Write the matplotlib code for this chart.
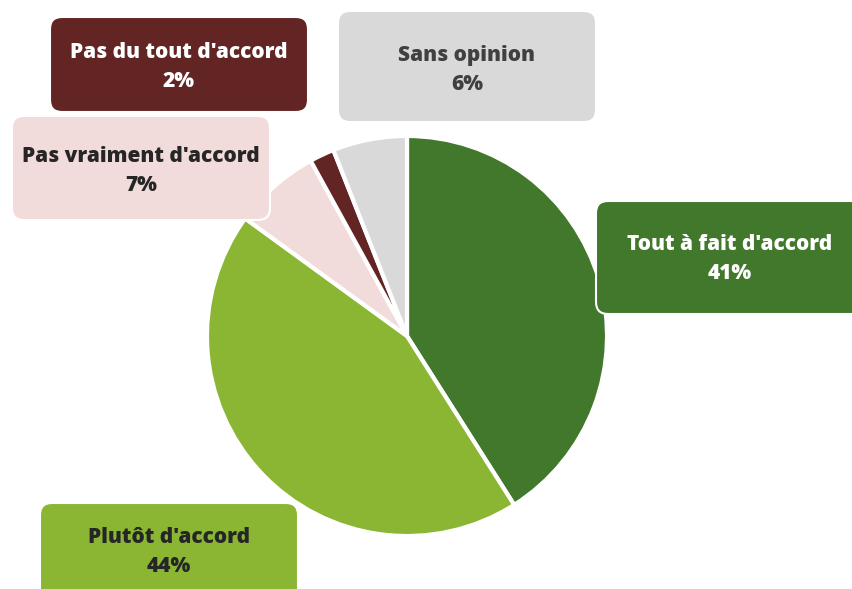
import matplotlib.pyplot as plt
from matplotlib.patches import FancyBboxPatch

# data
labels = ["Tout à fait d'accord", "Plutôt d'accord", "Pas vraiment d'accord",
          "Pas du tout d'accord", "Sans opinion"]
values = [41, 44, 7, 2, 6]
colors = ["#41782c", "#8ab634", "#f2dcdb", "#632523", "#d9d9d9"]
text_colors = ["white", "#262626", "#262626", "white", "#404040"]

H = 589
# label boxes (x, y_top, w, h) in pixels
boxes = [(596, 201, 270, 113), (40, 503, 258, 100), (12, 116, 258, 104),
         (50, 17, 258, 95), (338, 11, 258, 111)]
text_x = [730, 169, 141, 179, 467]
text_y = [259, 552, 171, 67, 70]

fig = plt.figure(figsize=(8.52, 5.89), dpi=100)
ax = fig.add_axes([0, 0, 1, 1])

ax.pie(values, colors=colors, startangle=90, counterclock=False,
       center=(407, H - 336), radius=200, explode=[0.025] * 5,
       wedgeprops=dict(edgecolor='white', linewidth=3))
ax.set_xlim(0, 852)
ax.set_ylim(0, H)
ax.set_aspect('auto')
ax.axis('off')

for lab, v, c, tc, (x, y, w, h), tx, ty in zip(labels, values, colors, text_colors,
                                               boxes, text_x, text_y):
    patch = FancyBboxPatch((x, H - y - h), w, h, boxstyle="round,pad=0,rounding_size=12",
                           facecolor=c, edgecolor='white', linewidth=1.5)
    ax.add_patch(patch)
    ax.text(tx, H - ty, f"{lab}\n{v}%",
            ha='center', va='center', color=tc, fontsize=15,
            fontweight='heavy', family='Open Sans', linespacing=1.5)

fig.savefig('out.png', dpi=100)
